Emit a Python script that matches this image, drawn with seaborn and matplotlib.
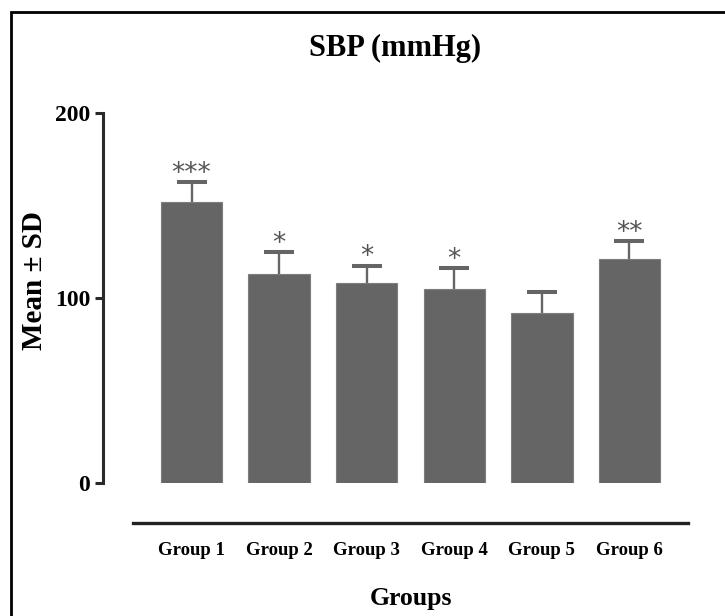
import matplotlib
matplotlib.use("Agg")
import matplotlib.pyplot as plt
import matplotlib.patches as mpatches
import seaborn as sns
import numpy as np
import pandas as pd

# ---- data ----
groups = ["Group 1", "Group 2", "Group 3", "Group 4", "Group 5", "Group 6"]
means = [152, 113, 108, 105, 92, 121]
sds = [10.5, 12, 9.5, 11, 11.5, 10]
stars = ["***", "*", "*", "*", "", "**"]
yticks = [0, 100, 200]

sns.set_theme(style="white")
plt.rcParams["font.family"] = ["Liberation Serif", "DejaVu Serif"]

DPI = 100
fig = plt.figure(figsize=(7.25, 6.16), dpi=DPI)
ax = fig.add_axes([133 / 725, (616 - 483) / 616, 555 / 725, 370 / 616])

bar_color = "#656565"
df = pd.DataFrame({"group": groups, "mean": means})
sns.barplot(data=df, x="group", y="mean", order=groups, color=bar_color,
            saturation=1, width=0.7, errorbar=None, ax=ax,
            edgecolor="#7d7d7d", linewidth=0.8)

xpos = np.arange(len(groups))
eb = ax.errorbar(xpos, means, yerr=[np.zeros(len(sds)), sds], fmt="none",
                 ecolor=bar_color, elinewidth=1.7, capsize=10.5, capthick=2.9,
                 zorder=1)
caps = eb[1]
if len(caps) >= 2:
    caps[0].set_visible(False)

for x, m, s, st in zip(xpos, means, sds, stars):
    if st:
        ax.annotate(st, xy=(x, m + s), xytext=(0, -3.5), textcoords="offset points",
                    ha="center", va="bottom", fontsize=19, color="#555555",
                    family=["DejaVu Sans"])

# spines first (repositioning resets tick label styles)
for side in ["top", "right"]:
    ax.spines[side].set_visible(False)
ax.spines["left"].set_position(("outward", 30 * 72 / DPI))
ax.spines["left"].set_bounds(0, 200)
ax.spines["left"].set_linewidth(2.2)
ax.spines["left"].set_color("#2a2a2a")
ax.spines["bottom"].set_position(("outward", 40 * 72 / DPI))
ax.spines["bottom"].set_linewidth(2.4)
ax.spines["bottom"].set_color("#222222")

ax.set_xlim(-0.668, 5.668)
ax.set_ylim(0, 200)
ax.set_xlabel("")
ax.set_ylabel("")
ax.tick_params(axis="y", direction="out", length=5.8, width=2.2, color="#2a2a2a",
               pad=3.5, left=True, labelcolor="black", labelsize=17)
ax.tick_params(axis="x", length=0, pad=14, labelcolor="black", labelsize=13.5)
ax.set_yticks(yticks)
ax.set_yticklabels([str(v) for v in yticks], fontsize=17, fontweight="bold")
ax.set_xticks(xpos)
ax.set_xticklabels(groups, fontsize=13.5, fontweight="bold")

# title and axis labels
fig.text(395 / 725, 1 - 56 / 616, "SBP (mmHg)", ha="center", va="baseline",
         fontsize=22, fontweight="bold", color="black")
fig.text(410.5 / 725, 1 - 605 / 616, "Groups", ha="center", va="baseline",
         fontsize=18.5, fontweight="bold", color="black")
fig.text(35 / 725, 1 - 281 / 616, "Mean ± SD", ha="center", va="center",
         rotation=90, fontsize=21, fontweight="bold", color="black")

# outer frame
frame = mpatches.Rectangle((11 / 725, -0.05), 1.0, (616 - 12) / 616 + 0.05,
                           transform=fig.transFigure, fill=False,
                           edgecolor="black", linewidth=2.0, clip_on=False)
fig.patches.append(frame)

fig.savefig("out.png", dpi=DPI, facecolor="white")
